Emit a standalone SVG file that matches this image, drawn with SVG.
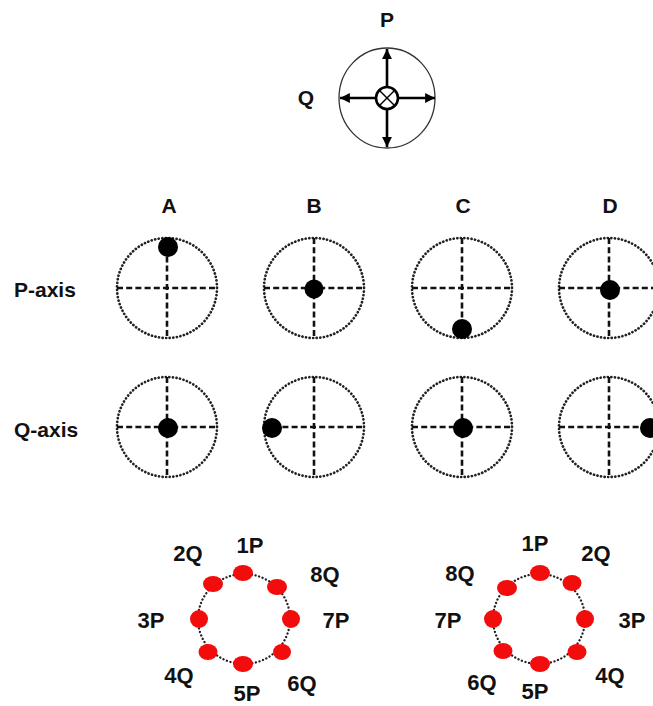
<svg xmlns="http://www.w3.org/2000/svg" width="653" height="706" viewBox="0 0 653 706">
<defs>
<style>
text{font-family:"Liberation Sans",Arial,sans-serif;font-weight:bold;fill:#111;}
.lbl{font-size:21px;text-anchor:middle;}
.row{font-size:21px;}
.ring{font-size:22px;text-anchor:middle;}
.dotc{fill:none;stroke:#222;stroke-width:2.7;stroke-dasharray:0.1 3.5;stroke-linecap:round;}
.cross{stroke:#111;stroke-width:2.6;stroke-dasharray:6 3.2;fill:none;}
.blk{fill:#000;}
.red{fill:#f20c0c;}
.ringc{fill:none;stroke:#222;stroke-width:2.3;stroke-dasharray:0.1 3.6;stroke-linecap:round;}
.arr{stroke:#000;stroke-width:2.6;fill:none;marker-end:url(#ah);}
</style>
<marker id="ah" viewBox="0 0 10 10" refX="10" refY="5" markerWidth="4.2" markerHeight="3.8" markerUnits="strokeWidth" orient="auto">
<path d="M0,0 L10,5 L0,10 z" fill="#000"/>
</marker>
<g id="dial">
<circle cx="0" cy="0" r="50" class="dotc"/>
<line x1="-50" y1="0" x2="50" y2="0" class="cross"/>
<line x1="0" y1="-50" x2="0" y2="50" class="cross"/>
</g>
</defs>
<rect width="653" height="706" fill="#fff"/>

<g id="top-compass">
<ellipse cx="387" cy="98" rx="48" ry="50" fill="none" stroke="#333" stroke-width="1.3"/>
<circle cx="387" cy="98" r="11" fill="#fff" stroke="#000" stroke-width="2.6"/>
<line x1="380" y1="91" x2="394" y2="105" stroke="#000" stroke-width="1.4"/>
<line x1="394" y1="91" x2="380" y2="105" stroke="#000" stroke-width="1.4"/>
<text x="387" y="27" class="lbl">P</text>
<text x="306" y="105" class="lbl">Q</text>
</g>
<g id="connectors">
<line x1="376" y1="98" x2="340" y2="98" class="arr"/>
<line x1="398" y1="98" x2="435" y2="98" class="arr"/>
<line x1="387" y1="87" x2="387" y2="49" class="arr"/>
<line x1="387" y1="109" x2="387" y2="147" class="arr"/>
</g>

<g id="col-labels">
<text x="169" y="213" class="lbl">A</text>
<text x="314" y="213" class="lbl">B</text>
<text x="463" y="213" class="lbl">C</text>
<text x="610" y="213" class="lbl">D</text>
</g>
<g id="row-labels">
<text x="14" y="297" class="row">P-axis</text>
<text x="14" y="437" class="row">Q-axis</text>
</g>

<g id="P-A"><use href="#dial" x="167" y="288"/><circle cx="168" cy="247" r="10" class="blk"/></g>
<g id="P-B"><use href="#dial" x="314" y="288"/><circle cx="314" cy="289" r="9.5" class="blk"/></g>
<g id="P-C"><use href="#dial" x="462" y="288"/><circle cx="462" cy="329" r="10" class="blk"/></g>
<g id="P-D"><use href="#dial" x="609" y="288"/><circle cx="610" cy="290" r="10" class="blk"/></g>

<g id="Q-A"><use href="#dial" x="167" y="427"/><circle cx="168" cy="428" r="10" class="blk"/></g>
<g id="Q-B"><use href="#dial" x="314" y="427"/><circle cx="272" cy="428" r="10" class="blk"/></g>
<g id="Q-C"><use href="#dial" x="462" y="427"/><circle cx="463" cy="428" r="10" class="blk"/></g>
<g id="Q-D"><use href="#dial" x="609" y="427"/><circle cx="650" cy="428" r="10" class="blk"/></g>

<g id="ring-left">
<ellipse cx="244" cy="619" rx="46" ry="45" class="ringc"/>
<ellipse cx="243" cy="573" rx="10" ry="8" class="red"/>
<ellipse cx="213" cy="584" rx="10" ry="8" class="red"/>
<ellipse cx="277" cy="587" rx="10" ry="8" class="red"/>
<ellipse cx="199" cy="619" rx="9" ry="9" class="red"/>
<ellipse cx="291" cy="619" rx="9" ry="9" class="red"/>
<ellipse cx="208" cy="652" rx="9.5" ry="8" class="red"/>
<ellipse cx="282" cy="652" rx="9" ry="8" class="red"/>
<ellipse cx="243" cy="664" rx="10" ry="8" class="red"/>
<text x="250" y="553" class="ring">1P</text>
<text x="188" y="561" class="ring">2Q</text>
<text x="325" y="582" class="ring">8Q</text>
<text x="151" y="628" class="ring">3P</text>
<text x="336" y="628" class="ring">7P</text>
<text x="179" y="683" class="ring">4Q</text>
<text x="302" y="691" class="ring">6Q</text>
<text x="247" y="701" class="ring">5P</text>
</g>

<g id="ring-right">
<ellipse cx="539" cy="619" rx="46" ry="45" class="ringc"/>
<ellipse cx="540" cy="573" rx="10" ry="8" class="red"/>
<ellipse cx="572" cy="583" rx="9.5" ry="8" class="red"/>
<ellipse cx="507" cy="588" rx="10" ry="8" class="red"/>
<ellipse cx="585" cy="619" rx="9" ry="9" class="red"/>
<ellipse cx="493" cy="619" rx="9" ry="9" class="red"/>
<ellipse cx="577" cy="652" rx="9.5" ry="8" class="red"/>
<ellipse cx="503" cy="651" rx="9.5" ry="8" class="red"/>
<ellipse cx="540" cy="664" rx="10" ry="8" class="red"/>
<text x="535" y="551" class="ring">1P</text>
<text x="596" y="561" class="ring">2Q</text>
<text x="460" y="581" class="ring">8Q</text>
<text x="448" y="628" class="ring">7P</text>
<text x="632" y="628" class="ring">3P</text>
<text x="482" y="690" class="ring">6Q</text>
<text x="535" y="699" class="ring">5P</text>
<text x="610" y="683" class="ring">4Q</text>
</g>
</svg>
